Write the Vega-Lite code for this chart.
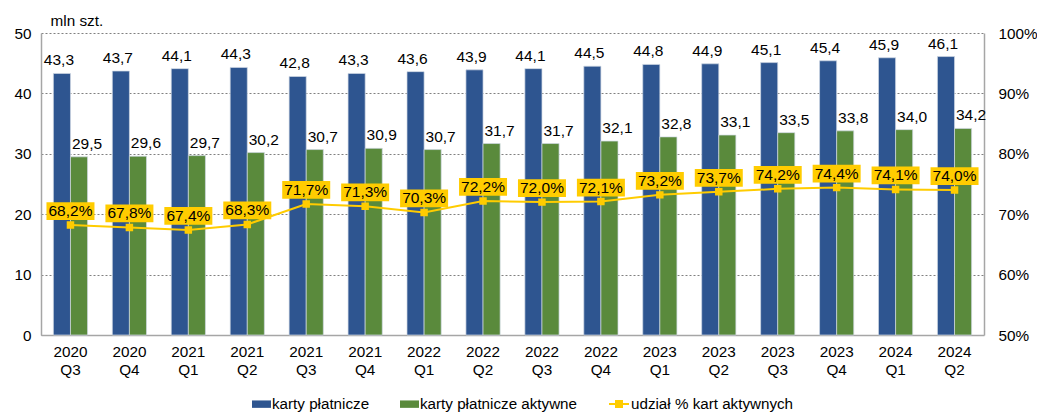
{
  "$schema": "https://vega.github.io/schema/vega-lite/v6.json",
  "width": 943,
  "height": 302,
  "autosize": {"type": "none"},
  "padding": {"left": 41, "top": 33, "right": 53, "bottom": 77},
  "config": {
    "locale": {"number": {"decimal": ",", "thousands": " ", "grouping": [3], "currency": ["", ""]}},
    "view": {"stroke": null},
    "font": "Liberation Sans",
    "axis": {"labelColor": "#000000", "labelFontSize": 15.3, "ticks": false, "domainColor": "#a6a6a6", "domainWidth": 1.5, "labelFont": "Liberation Sans", "titleFontSize": 15.3, "titleFontWeight": "normal", "titleColor": "#000000"}
  },
  "data": {
    "values": [
      {"q": "2020 Q3", "karty": 43.3, "aktywne": 29.5, "udzial": 0.682},
      {"q": "2020 Q4", "karty": 43.7, "aktywne": 29.6, "udzial": 0.678},
      {"q": "2021 Q1", "karty": 44.1, "aktywne": 29.7, "udzial": 0.674},
      {"q": "2021 Q2", "karty": 44.3, "aktywne": 30.2, "udzial": 0.683},
      {"q": "2021 Q3", "karty": 42.8, "aktywne": 30.7, "udzial": 0.717},
      {"q": "2021 Q4", "karty": 43.3, "aktywne": 30.9, "udzial": 0.713},
      {"q": "2022 Q1", "karty": 43.6, "aktywne": 30.7, "udzial": 0.703},
      {"q": "2022 Q2", "karty": 43.9, "aktywne": 31.7, "udzial": 0.722},
      {"q": "2022 Q3", "karty": 44.1, "aktywne": 31.7, "udzial": 0.720},
      {"q": "2022 Q4", "karty": 44.5, "aktywne": 32.1, "udzial": 0.721},
      {"q": "2023 Q1", "karty": 44.8, "aktywne": 32.8, "udzial": 0.732},
      {"q": "2023 Q2", "karty": 44.9, "aktywne": 33.1, "udzial": 0.737},
      {"q": "2023 Q3", "karty": 45.1, "aktywne": 33.5, "udzial": 0.742},
      {"q": "2023 Q4", "karty": 45.4, "aktywne": 33.8, "udzial": 0.744},
      {"q": "2024 Q1", "karty": 45.9, "aktywne": 34.0, "udzial": 0.741},
      {"q": "2024 Q2", "karty": 46.1, "aktywne": 34.2, "udzial": 0.740}
    ]
  },
  "layer": [
    {
      "transform": [{"fold": ["karty", "aktywne"], "as": ["series", "value"]}],
      "encoding": {
        "x": {
          "field": "q", "type": "nominal", "sort": null,
          "scale": {"paddingInner": 0.42, "paddingOuter": 0.21},
          "axis": {"title": null, "labelAngle": 0, "labelExpr": "split(datum.value, ' ')", "labelPadding": 9, "labelLineHeight": 18, "labelBaseline": "top"}
        },
        "xOffset": {"field": "series", "type": "nominal", "scale": {"domain": ["karty", "aktywne"]}},
        "y": {
          "field": "value", "type": "quantitative",
          "scale": {"domain": [0, 50]},
          "axis": {
            "values": [0, 10, 20, 30, 40, 50],
            "title": "mln szt.", "titleAngle": 0, "titleAlign": "left", "titleBaseline": "middle",
            "titleX": 9, "titleY": -13, "titleFontWeight": "normal", "titleFontSize": 15.3, "titleColor": "#000000",
            "labelPadding": 10, "gridDash": [2, 2], "gridColor": "#808080", "gridWidth": 1
          }
        }
      },
      "layer": [
        {
          "mark": {"type": "bar", "stroke": "#d0d8e4", "strokeWidth": 0.7},
          "encoding": {
            "color": {
              "field": "series", "type": "nominal",
              "scale": {"domain": ["karty", "aktywne"], "range": ["#2E5590", "#5A8A3C"]},
              "legend": {
                "orient": "none", "legendX": 211, "legendY": 361.5, "direction": "horizontal", "title": null,
                "labelFontSize": 15.2, "labelColor": "#000000", "labelLimit": 400, "symbolSize": 361, "columnPadding": 30, "labelOffset": 1,
                "symbolType": "M-1,-0.39L1,-0.39L1,0.39L-1,0.39Z",
                "symbolStrokeWidth": 0,
                "labelExpr": "datum.value == 'karty' ? 'karty płatnicze' : 'karty płatnicze aktywne'"
              }
            }
          }
        },
        {
          "transform": [{"filter": "datum.series == 'karty'"}],
          "mark": {"type": "text", "baseline": "bottom", "dy": -5, "dx": -3, "fontSize": 15.5, "color": "#000000"},
          "encoding": {"text": {"field": "value", "type": "quantitative", "format": ".1f"}}
        },
        {
          "transform": [{"filter": "datum.series == 'aktywne'"}],
          "mark": {"type": "text", "baseline": "bottom", "dy": -5, "dx": 8, "fontSize": 15.5, "color": "#000000"},
          "encoding": {"text": {"field": "value", "type": "quantitative", "format": ".1f"}}
        }
      ]
    },
    {
      "encoding": {
        "x": {"field": "q", "type": "nominal", "sort": null},
        "y": {
          "field": "udzial", "type": "quantitative",
          "scale": {"domain": [0.5, 1]},
          "axis": {"orient": "right", "format": ".0%", "values": [0.5, 0.6, 0.7, 0.8, 0.9, 1.0], "grid": false, "title": null, "labelPadding": 14}
        }
      },
      "layer": [
        {
          "mark": {"type": "line", "strokeWidth": 2, "point": {"shape": "square", "size": 30, "filled": true, "color": "#FFCC00", "opacity": 1}},
          "encoding": {
            "stroke": {
              "datum": "udzial",
              "scale": {"domain": ["udzial"], "range": ["#FFCC00"]},
              "legend": {
                "orient": "none", "legendX": 567, "legendY": 360, "title": null,
                "labelFontSize": 15.2, "labelColor": "#000000", "labelLimit": 400, "symbolSize": 400, "labelOffset": 1,
                "symbolType": "M-1,0L1,0M-0.3,-0.3L0.3,-0.3L0.3,0.3L-0.3,0.3Z",
                "symbolStrokeWidth": 2, "symbolFillColor": "#FFCC00", "symbolStrokeColor": "#FFCC00",
                "labelExpr": "'udział % kart aktywnych'"
              }
            }
          }
        },
        {
          "mark": {"type": "point", "shape": "M-1,-0.37L1,-0.37L1,0.37L-1,0.37Z", "size": 2304, "filled": true, "color": "#FFCC00", "opacity": 1, "strokeWidth": 0, "yOffset": -14}
        },
        {
          "mark": {"type": "text", "dy": -14, "fontSize": 15.5, "baseline": "middle", "color": "#000000"},
          "encoding": {"text": {"field": "udzial", "type": "quantitative", "format": ".1%"}}
        }
      ]
    }
  ],
  "resolve": {"scale": {"y": "independent"}}
}
